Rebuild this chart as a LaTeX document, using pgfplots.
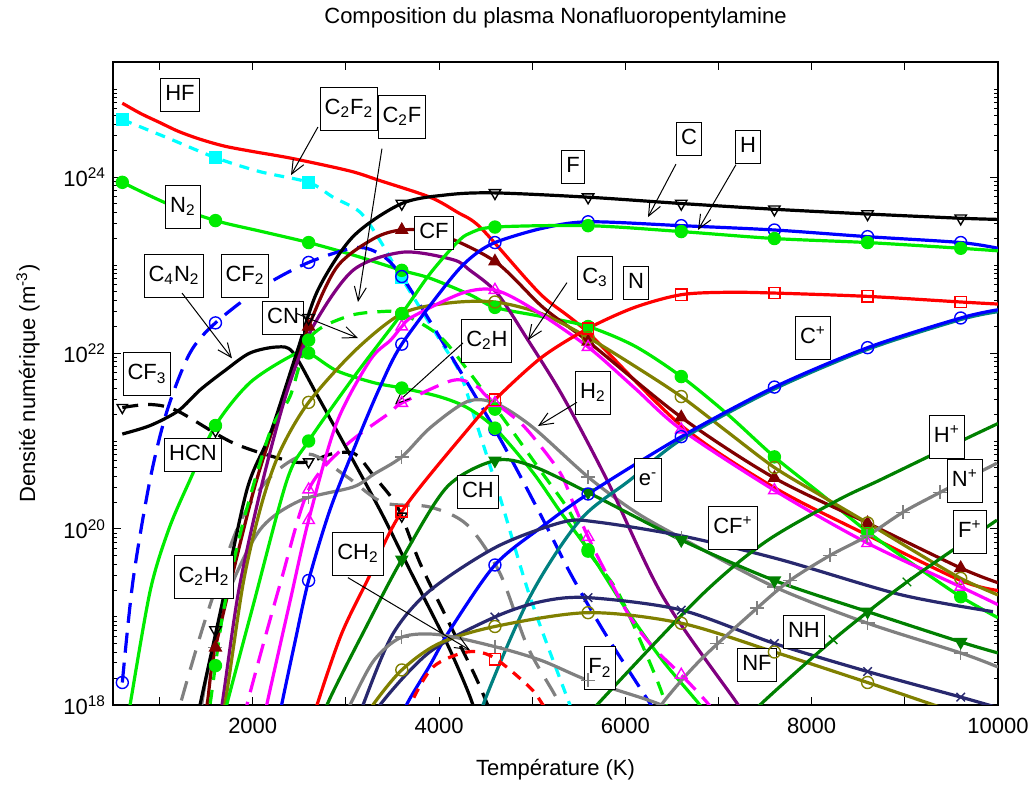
\documentclass[border=0pt]{standalone}
\usepackage{fontspec}
\setmainfont{Liberation Sans}
\usepackage{pgfplots}
\pgfplotsset{compat=1.18}
\usetikzlibrary{arrows.meta}
\definecolor{mred}{RGB}{255,0,0}
\definecolor{mcyan}{RGB}{0,255,255}
\definecolor{mgreen}{RGB}{0,235,0}
\definecolor{mblue}{RGB}{0,0,255}
\definecolor{mmaroon}{RGB}{128,0,0}
\definecolor{mpurple}{RGB}{128,0,128}
\definecolor{molive}{RGB}{128,128,0}
\definecolor{mmagenta}{RGB}{255,0,255}
\definecolor{mgray}{RGB}{128,128,128}
\definecolor{mdgreen}{RGB}{0,128,0}
\definecolor{mteal}{RGB}{0,128,128}
\definecolor{mnavy}{RGB}{40,40,110}
\pgfplotsset{
  ln/.style={smooth, line width=1.6pt, no markers},
  mk/.style={only marks, mark size=3pt, mark options={solid, line width=0.7pt}},
  dn/.style={mark options={solid, line width=0.7pt, rotate=180}},
}
\tikzset{
  lbl/.style={draw=black, fill=white, line width=0.5pt, inner xsep=2.2pt, inner ysep=3pt, text height=8pt, text depth=2.5pt, font=\fontsize{11}{13}\selectfont},
  lbls/.style={lbl, text height=10.5pt, text depth=5pt},
  arr/.style={line width=0.5pt, -{Straight Barb[length=7pt,width=6pt]}},
}
\begin{document}
\begin{tikzpicture}
\path[use as bounding box] (-56.5pt,-41pt) rectangle (460pt,352.5pt);
\begin{axis}[
  scale only axis, width=442.5pt, height=321.5pt,
  xmin=500, xmax=10000, ymin=1e18, ymax=2.03e25,
  ymode=log,
  scaled x ticks=false,
  xtick={1000,2000,3000,4000,5000,6000,7000,8000,9000,10000},
  xticklabels={,2000,,4000,,6000,,8000,,10000},
  xticklabel style={yshift=-3pt},
  ytick={1e18,1e20,1e22,1e24},
  yticklabels={10\textsuperscript{18},10\textsuperscript{20},10\textsuperscript{22},10\textsuperscript{24}},
  minor ytick={2e18,3e18,4e18,5e18,6e18,7e18,8e18,9e18,1e19,2e19,3e19,4e19,5e19,6e19,7e19,8e19,9e19,2e20,3e20,4e20,5e20,6e20,7e20,8e20,9e20,1e21,2e21,3e21,4e21,5e21,6e21,7e21,8e21,9e21,2e22,3e22,4e22,5e22,6e22,7e22,8e22,9e22,1e23,2e23,3e23,4e23,5e23,6e23,7e23,8e23,9e23,2e24,3e24,4e24,5e24,6e24,7e24,8e24,9e24,1e25,2e25},
  major tick length=4pt, minor tick length=2pt,
  tick style={black, line width=0.5pt},
  tick label style={font=\fontsize{11}{13}\selectfont},
  axis line style={line width=0.7pt},
]
% HF
\addplot[ln, mred] coordinates {(600,6.9e24)(800,5.25e24)(1000,4.17e24)(1200,3.31e24)(1434,2.69e24)(1700,2.24e24)(2000,1.95e24)(2432,1.62e24)(3044,1.17e24)(3366,9.1e23)(3903,5.9e23)(4193,4.0e23)(4440,2.7e23)(4944,6.8e22)(5158,4.0e22)(5600,1.7e22)(6600,1.5e21)(7600,2.95e20)(8600,8.5e19)(9600,2.6e19)(10000,2.0e19)};
% C2F2
\addplot[ln, mcyan, dash pattern=on 5pt off 4pt] coordinates {(600,4.5e24)(1080,2.8e24)(1600,1.66e24)(2078,1.15e24)(2600,8.7e23)(2862,5.9e23)(3150,4.0e23)(3366,1.9e23)(3600,7.1e22)(4010,1.4e22)(4225,5.9e21)(4400,1.6e21)(4654,2.3e20)(4976,1.7e19)(5373,1.23e18)(5600,3e17)};
\addplot[mk, mcyan, mark=square*, mark size=2.8pt] coordinates {(600,4.5e24)(1600,1.66e24)(2600,8.7e23)(3600,7.1e22)};
% N2
\addplot[ln, mgreen] coordinates {(600,8.7e23)(1080,5.0e23)(1600,3.2e23)(2100,2.4e23)(2600,1.8e23)(3076,1.3e23)(3600,8.7e22)(3900,7.1e22)(4332,4.6e22)(4600,3.3e22)(5100,2.6e22)(5600,2.0e22)(6100,1.2e22)(6600,5.4e21)(7100,2.0e21)(7600,6.6e20)(8100,2.5e20)(8600,9.3e19)(9100,3.9e19)(9600,1.7e19)(10000,9.8e18)};
\addplot[mk, mgreen, mark=*] coordinates {(600,8.7e23)(1600,3.2e23)(2600,1.8e23)(3600,8.7e22)(4600,3.3e22)(5600,2.0e22)(6600,5.4e21)(7600,6.6e20)(8600,9.3e19)(9600,1.7e19)};
% CF2
\addplot[ln, mblue, dash pattern=on 10pt off 5pt] coordinates {(600,1.8e18)(715,2.6e19)(897,3.6e20)(1080,2.2e21)(1326,1e22)(1600,2.2e22)(2100,5.6e22)(2600,1.07e23)(3119,1.58e23)(3400,1.26e23)(3613,7.1e22)(3978,1.7e22)(4600,1.35e21)(5083,1.5e20)(5405,3.2e19)(5760,7.1e18)(6190,1.38e18)(6400,6.3e17)};
\addplot[mk, mblue, mark=o] coordinates {(600,1.8e18)(1600,2.2e22)(2600,1.07e23)(3600,7.4e22)(4600,1.35e21)};
% C4N2
\addplot[ln, black] coordinates {(600,1.2e21)(900,1.5e21)(1200,2.2e21)(1434,3.8e21)(1700,6.3e21)(1970,1e22)(2260,1.17e22)(2430,1.02e22)(2700,3.2e21)(3119,5e20)(3400,1.4e20)(3700,3.2e19)(4085,5e18)(4330,1.26e18)(4450,5e17)};
% CF3
\addplot[ln, black, dash pattern=on 8pt off 5pt] coordinates {(600,2.4e21)(900,2.6e21)(1190,2.2e21)(1790,9.5e20)(2370,6.0e20)(2600,5.8e20)(2862,7.2e20)(3100,7.1e20)(3300,4e20)(3500,2.2e20)(3600,1.4e20)(3800,4e19)(4100,8.9e18)(4400,2e18)(4600,6.3e17)};
\addplot[mk, black, mark=triangle, dn] coordinates {(600,2.4e21)(1600,1.3e21)(2600,5.8e20)(3600,1.4e20)};
% HCN
\addplot[ln, mgreen] coordinates {(600,3e17)(683,1e18)(900,2e19)(1100,1e20)(1326,3.6e20)(1600,1.5e21)(1970,4.6e21)(2432,9.5e21)(2600,1.0e22)(2900,6.3e21)(3300,4.6e21)(3600,4.0e21)(4000,3.2e21)(4300,2.4e21)(4600,1.4e21)(5000,4.5e20)(5300,1.58e20)(5600,5.8e19)(6000,1.26e19)(6400,3.2e18)(6800,1e18)(7000,5e17)};
\addplot[mk, mgreen, mark=*] coordinates {(1600,1.5e21)(2600,1.0e22)(3600,4.0e21)(4600,1.4e21)(5600,5.8e19)};
% C2H2
\addplot[ln, mgray, dash pattern=on 10pt off 6pt] coordinates {(1150,5e17)(1220,1e18)(1500,1e19)(1860,1.17e20)(2200,4e20)(2600,7.1e20)(3000,4e20)(3400,2e20)(3900,1.78e20)(4300,1.12e20)(4650,3.2e19)(4950,4.6e18)(5270,1.15e18)(5400,5e17)};
% H2
\addplot[ln, mgray] coordinates {(1400,4e17)(1500,2e18)(1724,1.7e19)(2078,9.8e19)(2507,2.1e20)(3076,3.0e20)(3300,4.2e20)(3600,6.6e20)(3900,1.4e21)(4300,2.8e21)(4600,2.7e21)(5000,1.45e21)(5600,3.9e20)(6100,1.58e20)(6600,7.9e19)(7600,2.2e19)(8600,8.5e18)(9600,3.9e18)(10000,2.7e18)};
\addplot[mk, mgray, mark=+, mark size=3.5pt] coordinates {(1600,4.5e18)(2600,2.3e20)(3600,6.6e20)(4600,2.7e21)(5600,3.9e20)(6600,7.9e19)(7600,2.2e19)(8600,8.5e18)(9600,3.9e18)};
% CF
\addplot[ln, mmaroon] coordinates {(1400,3e17)(1509,1e18)(1600,4.5e18)(2000,2.5e20)(2300,2.5e21)(2600,2.0e22)(2904,9.5e22)(3300,2.0e23)(3600,2.5e23)(3978,2.3e23)(4600,1.1e23)(5116,3.3e22)(5600,1.35e22)(6600,1.86e21)(7600,3.8e20)(8600,1.17e20)(9600,3.6e19)(10000,2.45e19)};
\addplot[mk, mmaroon, mark=triangle*, mark size=3.3pt] coordinates {(1600,4.5e18)(2600,2.0e22)(3600,2.5e23)(4600,1.1e23)(5600,1.35e22)(6600,1.86e21)(7600,3.8e20)(8600,1.17e20)(9600,3.6e19)};
% F
\addplot[ln, black] coordinates {(1300,2e17)(1434,1e18)(1649,1.1e19)(1938,2.8e20)(2190,1.23e21)(2480,1.07e22)(2700,5.2e22)(3076,2.1e23)(3600,5.0e23)(4100,6.3e23)(4600,6.6e23)(5600,5.9e23)(6600,5.0e23)(7600,4.3e23)(8600,3.8e23)(9600,3.4e23)(10000,3.3e23)};
\addplot[mk, black, mark=triangle, dn, mark size=3.3pt] coordinates {(1600,7.1e18)(2600,2.5e22)(3600,5.0e23)(4600,6.6e23)(5600,5.9e23)(6600,5.0e23)(7600,4.3e23)(8600,3.8e23)(9600,3.4e23)};
% C2F (green dashed)
\addplot[ln, mgreen, dash pattern=on 7pt off 5pt] coordinates {(1450,3e17)(1541,1e18)(1681,1.1e19)(1895,1.17e20)(2185,1.26e21)(2400,3.2e21)(2615,1.5e22)(3012,2.6e22)(3366,2.95e22)(3600,2.8e22)(4000,1.58e22)(4332,5.9e21)(4729,1.58e21)(5083,4.7e20)(5400,1.58e20)(5600,5.6e19)(5910,2e19)(6189,4.6e18)(6371,1.58e18)(6500,6.3e17)};
\addplot[mk, mgreen, mark=*] coordinates {(1600,2.8e18)(2600,1.4e22)(3600,2.8e22)(4600,2.3e21)(5600,5.6e19)};
% C3
\addplot[ln, mpurple] coordinates {(1550,2e17)(1670,1e18)(1850,2e19)(2110,3.6e20)(2380,4e21)(2647,2.0e22)(3076,8.7e22)(3613,1.4e23)(4150,1.15e23)(4332,8.7e22)(4622,4.8e22)(4955,1.4e22)(5330,3.2e21)(5803,3.6e20)(6404,1.7e19)(7198,1.05e18)(7400,5e17)};
% CN (olive)
\addplot[ln, molive] coordinates {(1550,2e17)(1700,1e18)(1900,2.5e19)(2100,2e20)(2300,7.9e20)(2600,2.75e21)(3100,1.07e22)(3600,2.8e22)(4100,3.7e22)(4600,3.8e22)(5100,2.8e22)(5600,1.5e22)(6100,7.1e21)(6600,3.2e21)(7100,1.26e21)(7600,5e20)(8100,2.4e20)(8600,1.17e20)(9100,5.6e19)(9600,2.75e19)(10000,1.78e19)};
\addplot[mk, molive, mark=o] coordinates {(2600,2.75e21)(3600,2.8e22)(4600,3.8e22)(5600,1.5e22)(6600,3.2e21)(7600,5e20)(8600,1.17e20)(9600,2.75e19)};
% magenta solid
\addplot[ln, mmagenta] coordinates {(2050,3e17)(2150,1e18)(2400,1.5e19)(2600,1.26e20)(2900,1.6e21)(3260,8.3e21)(3480,1.4e22)(3600,2.0e22)(3720,2.6e22)(4250,4.8e22)(4600,5.2e22)(5000,3.2e22)(5600,1.17e22)(6100,4.0e21)(6600,1.35e21)(7600,2.75e20)(8600,6.9e19)(9600,2.2e19)(10000,1.38e19)};
\addplot[mk, mmagenta, mark=triangle, mark size=3.3pt] coordinates {(2600,1.26e20)(3600,2.0e22)(4600,5.2e22)(5600,1.17e22)(6600,1.35e21)(7600,2.75e20)(8600,6.9e19)(9600,2.2e19)};
% C2H (magenta dashed)
\addplot[ln, mmagenta, dash pattern=on 10pt off 5pt] coordinates {(1850,3e17)(1938,1e18)(2300,2.5e19)(2600,2.8e20)(3000,8.9e20)(3473,2.1e21)(3600,2.7e21)(4150,4.9e21)(4400,4.2e21)(4515,3.2e21)(4837,1.74e21)(5008,1.12e21)(5298,4.4e20)(5438,2e20)(5600,8.1e19)(5760,3.7e19)(6050,1e19)(6300,4.5e18)(6600,2.2e18)(6900,1e18)(7100,5e17)};
\addplot[mk, mmagenta, mark=triangle, mark size=3.3pt] coordinates {(2600,2.8e20)(3600,2.7e21)(4600,2.7e21)(5600,8.1e19)(6600,2.2e18)};
% C (blue circles)
\addplot[ln, mblue] coordinates {(2200,2.5e17)(2310,1e18)(2450,5e18)(2600,2.6e19)(2830,1.66e20)(3120,1.0e21)(3366,4.1e21)(3600,1.26e22)(4118,6.8e22)(4350,1.23e23)(4600,1.8e23)(5100,2.6e23)(5600,3.1e23)(6600,2.8e23)(7600,2.5e23)(8600,2.1e23)(9600,1.8e23)(10000,1.55e23)};
\addplot[mk, mblue, mark=o] coordinates {(2600,2.6e19)(3600,1.26e22)(4600,1.8e23)(5600,3.1e23)(6600,2.8e23)(7600,2.5e23)(8600,2.1e23)(9600,1.8e23)};
% H (green)
\addplot[ln, mgreen] coordinates {(1600,3e17)(1720,1e18)(2000,1.3e19)(2368,3.6e20)(2600,1e21)(3100,5.6e21)(3600,2.8e22)(3900,7.9e22)(4193,1.8e23)(4332,2.3e23)(4600,2.7e23)(5600,2.8e23)(6600,2.4e23)(7600,2.0e23)(8600,1.8e23)(9600,1.55e23)(10000,1.45e23)};
\addplot[mk, mgreen, mark=*] coordinates {(2600,1e21)(3600,2.8e22)(4600,2.7e23)(5600,2.8e23)(6600,2.4e23)(7600,2.0e23)(8600,1.8e23)(9600,1.55e23)};
% N (red squares)
\addplot[ln, mred] coordinates {(2550,3e17)(2690,1e18)(2950,6.3e18)(3230,2.6e19)(3600,1.58e20)(4332,1.45e21)(4600,2.95e21)(5100,8.9e21)(5600,1.9e22)(6100,3.3e22)(6600,4.6e22)(7100,4.9e22)(7600,4.8e22)(8600,4.4e22)(9600,3.8e22)(10000,3.6e22)};
\addplot[mk, mred, mark=square, mark size=2.8pt] coordinates {(3600,1.58e20)(4600,2.95e21)(5600,1.9e22)(6600,4.6e22)(7600,4.8e22)(8600,4.4e22)(9600,3.8e22)};
% CH (dark green)
\addplot[ln, mdgreen] coordinates {(2700,4e17)(2797,1e18)(3200,7.1e18)(3600,4.5e19)(4085,3e20)(4600,6e20)(5000,5.2e20)(5600,2.6e20)(6600,7.5e19)(7600,2.6e19)(8600,1.15e19)(9600,5.2e18)(10000,3.9e18)};
\addplot[mk, mdgreen, mark=triangle*, dn, mark size=3.3pt] coordinates {(3600,4.5e19)(4600,6e20)(5600,2.6e20)(6600,7.5e19)(7600,2.6e19)(8600,1.15e19)(9600,5.2e18)};
% e-
\addplot[ln, mteal] coordinates {(4400,4e17)(4472,1e18)(4976,1.7e19)(5513,1.26e20)(6050,3.6e20)(6618,1.07e21)(7600,3.9e21)(8600,1.1e22)(9600,2.4e22)(10000,2.95e22)};
% C+
\addplot[ln, mblue] coordinates {(3500,4e17)(3650,1e18)(3900,2.8e18)(4117,7.1e18)(4600,3.9e19)(5100,1.05e20)(5600,2.5e20)(6600,1.12e21)(7600,4.1e21)(8600,1.15e22)(9600,2.5e22)(10000,3.1e22)};
\addplot[mk, mblue, mark=o] coordinates {(4600,3.9e19)(5600,2.5e20)(6600,1.12e21)(7600,4.1e21)(8600,1.15e22)(9600,2.5e22)};
% CF+
\addplot[ln, mnavy] coordinates {(3100,5e17)(3184,1e18)(3500,6.3e18)(3903,2e19)(4622,6.3e19)(5330,1.2e20)(5695,1.2e20)(6618,8.3e19)(7660,4.5e19)(8948,1.8e19)(9946,1.15e19)};
% NH
\addplot[ln, mnavy] coordinates {(3250,5e17)(3366,1e18)(3900,4e18)(4600,1e19)(5100,1.5e19)(5600,1.66e19)(6600,1.2e19)(7600,5e18)(8600,2.4e18)(9600,1.23e18)(10000,9.3e17)};
\addplot[mk, mnavy, mark=x, mark size=3pt] coordinates {(4600,1e19)(5600,1.66e19)(6600,1.2e19)(7600,5e18)(8600,2.4e18)(9600,1.23e18)};
% NF
\addplot[ln, molive] coordinates {(3200,6.3e17)(3290,1e18)(3600,2.5e18)(4000,5e18)(4600,7.8e18)(5600,1.12e19)(6600,8.5e18)(7600,4e18)(8600,1.8e18)(9600,7.9e17)(10000,5.9e17)};
\addplot[mk, molive, mark=o] coordinates {(3600,2.5e18)(4600,7.8e18)(5600,1.12e19)(6600,8.5e18)(7600,4e18)(8600,1.8e18)};
% F2
\addplot[ln, mgray] coordinates {(2950,6.3e17)(3044,1e18)(3300,3.2e18)(3600,5.9e18)(4000,6.3e18)(4600,4.6e18)(5100,3.2e18)(5600,1.9e18)(6232,1.15e18)(6500,9e17)};
\addplot[mk, mgray, mark=+, mark size=3.5pt] coordinates {(3600,5.9e18)(4600,4.6e18)(5600,1.9e18)};
% CH2
\addplot[ln, mred, dash pattern=on 5pt off 4pt] coordinates {(3600,5e17)(3690,1e18)(3935,2.7e18)(4300,4e18)(4580,3.5e18)(4976,1.58e18)(5116,1e18)(5300,5e17)};
\addplot[mk, mred, mark=square, mark size=2.8pt] coordinates {(4600,3.3e18)};
% N+
\addplot[ln, mgray] coordinates {(6300,6.3e17)(6400,1.05e18)(6800,3.2e18)(7413,1.26e19)(7767,2.6e19)(8196,5e19)(8593,8.3e19)(8980,1.55e20)(9377,2.6e20)(9989,5.6e20)};
\addplot[mk, mgray, mark=+, mark size=3.5pt] coordinates {(6983,5e18)(7413,1.26e19)(7767,2.6e19)(8196,5e19)(8593,8.3e19)(8980,1.55e20)(9377,2.6e20)};
% H+
\addplot[ln, mdgreen] coordinates {(5600,7.1e17)(5695,1e18)(6800,1.7e19)(7500,7.1e19)(8271,2.1e20)(8733,3.6e20)(9400,7.9e20)(10000,1.58e21)};
% F+
\addplot[ln, mdgreen] coordinates {(7300,6.3e17)(7445,1e18)(8230,5.5e18)(9023,2.5e19)(9989,1.26e20)};
\addplot[mk, mdgreen, mark=x, mark size=3pt] coordinates {(8230,5.5e18)(9023,2.5e19)};
% labels
\node[lbl] at (axis cs:1219,8.5e24) {HF};
\node[lbls] at (axis cs:3033,5.9e24) {C\textsubscript{2}F\textsubscript{2}};
\node[lbls] at (axis cs:3602,4.8e24) {C\textsubscript{2}F};
\node[lbl] at (axis cs:5438,1.29e24) {F};
\node[lbl] at (axis cs:6683,2.7e24) {C};
\node[lbl] at (axis cs:7316,2.2e24) {H};
\node[lbls] at (axis cs:1251,4.6e23) {N\textsubscript{2}};
\node[lbl] at (axis cs:3946,2.3e23) {CF};
\node[lbls] at (axis cs:1155,7.5e22) {C\textsubscript{4}N\textsubscript{2}};
\node[lbls] at (axis cs:1917,7.5e22) {CF\textsubscript{2}};
\node[lbl] at (axis cs:2325,2.5e22) {CN};
\node[lbls] at (axis cs:5674,7.2e22) {C\textsubscript{3}};
\node[lbl] at (axis cs:6114,6.3e22) {N};
\node[lbls] at (axis cs:865,5.7e21) {CF\textsubscript{3}};
\node[lbls] at (axis cs:4514,1.38e22) {C\textsubscript{2}H};
\node[lbls] at (axis cs:5652,3.5e21) {H\textsubscript{2}};
\node[lbls] at (axis cs:8014,1.48e22) {C\textsuperscript{+}};
\node[lbl] at (axis cs:1359,6.9e20) {HCN};
\node[lbl] at (axis cs:4418,2.6e20) {CH};
\node[lbls] at (axis cs:6243,3.6e20) {e\textsuperscript{-}};
\node[lbls] at (axis cs:7155,1.02e20) {CF\textsuperscript{+}};
\node[lbls] at (axis cs:9452,1.1e21) {H\textsuperscript{+}};
\node[lbls] at (axis cs:9645,3.5e20) {N\textsuperscript{+}};
\node[lbls] at (axis cs:9699,9.3e19) {F\textsuperscript{+}};
\node[lbls] at (axis cs:1477,2.85e19) {C\textsubscript{2}H\textsubscript{2}};
\node[lbls] at (axis cs:3130,5.2e19) {CH\textsubscript{2}};
\node[lbls] at (axis cs:5727,2.6e18) {F\textsubscript{2}};
\node[lbl] at (axis cs:7917,6.8e18) {NH};
\node[lbl] at (axis cs:7413,2.85e18) {NF};
% arrows
\draw[arr] (axis cs:2700,3.7e24) -- (axis cs:2411,1.05e24);
\draw[arr] (axis cs:3387,2.1e24) -- (axis cs:3130,3.8e22);
\draw[arr] (axis cs:6543,1.4e24) -- (axis cs:6243,3.5e23);
\draw[arr] (axis cs:7187,1.38e24) -- (axis cs:6780,2.5e23);
\draw[arr] (axis cs:1241,4.8e22) -- (axis cs:1777,8.7e21);
\draw[arr] (axis cs:2475,2.8e22) -- (axis cs:3130,1.48e22);
\draw[arr] (axis cs:5373,6.3e22) -- (axis cs:4955,1.4e22);
\draw[arr] (axis cs:4257,1.3e22) -- (axis cs:3527,2.6e21);
\draw[arr] (axis cs:5480,2.75e21) -- (axis cs:5062,1.48e21);
\draw[arr] (axis cs:3022,2.8e19) -- (axis cs:4332,4.2e18);
\end{axis}
\node[font=\fontsize{11}{13}\selectfont] at (221.25pt,343.5pt) {Composition du plasma Nonafluoropentylamine};
\node[font=\fontsize{11}{13}\selectfont] at (221.25pt,-32.5pt) {Température (K)};
\node[font=\fontsize{11}{13}\selectfont, rotate=90] at (-42.5pt,160.75pt) {Densité numérique (m\textsuperscript{-3})};
\end{tikzpicture}
\end{document}
